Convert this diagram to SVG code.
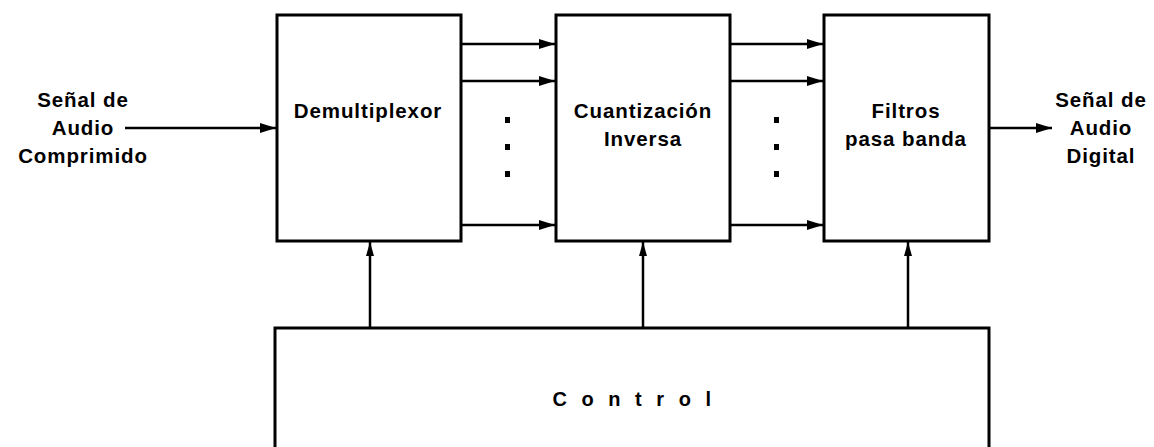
<svg xmlns="http://www.w3.org/2000/svg" width="1154" height="447" viewBox="0 0 1154 447">
<style>
.box{fill:#fff;stroke:#000;stroke-width:3}
.ln{stroke:#000;stroke-width:2.5;fill:none}
.t{font-family:"Liberation Sans",Arial,sans-serif;font-weight:bold;font-size:20.5px;letter-spacing:0.9px;text-anchor:middle;fill:#000}
.c{font-family:"Liberation Sans",Arial,sans-serif;font-weight:bold;font-size:20px;letter-spacing:4.5px;text-anchor:middle;fill:#000}
</style>
<defs>
<marker id="ah" markerWidth="16" markerHeight="10" refX="16" refY="5" orient="auto" markerUnits="userSpaceOnUse">
<path d="M0,0 L16,5 L0,10 Z" fill="#000"/>
</marker>
<marker id="av" markerWidth="14" markerHeight="8" refX="14" refY="4" orient="auto" markerUnits="userSpaceOnUse">
<path d="M0,0 L14,4 L0,8 Z" fill="#000"/>
</marker>
</defs>
<g id="connectors">
<line class="ln" x1="125" y1="128" x2="276" y2="128" marker-end="url(#ah)"/>
<line class="ln" x1="461" y1="44" x2="555" y2="44" marker-end="url(#ah)"/>
<line class="ln" x1="461" y1="81" x2="555" y2="81" marker-end="url(#ah)"/>
<line class="ln" x1="461" y1="225" x2="555" y2="225" marker-end="url(#ah)"/>
<line class="ln" x1="730" y1="44" x2="823" y2="44" marker-end="url(#ah)"/>
<line class="ln" x1="730" y1="81" x2="823" y2="81" marker-end="url(#ah)"/>
<line class="ln" x1="730" y1="225" x2="823" y2="225" marker-end="url(#ah)"/>
<line class="ln" x1="989" y1="128" x2="1052" y2="128" marker-end="url(#ah)"/>
<line class="ln" x1="370" y1="328" x2="370" y2="242" marker-end="url(#av)"/>
<line class="ln" x1="643" y1="328" x2="643" y2="242" marker-end="url(#av)"/>
<line class="ln" x1="908" y1="328" x2="908" y2="242" marker-end="url(#av)"/>
<rect x="505" y="117" width="5" height="6" fill="#000"/>
<rect x="505" y="144" width="5" height="6" fill="#000"/>
<rect x="505" y="171" width="5" height="6" fill="#000"/>
<rect x="774" y="117" width="5" height="6" fill="#000"/>
<rect x="774" y="144" width="5" height="6" fill="#000"/>
<rect x="774" y="171" width="5" height="6" fill="#000"/>
</g>
<g id="input-label">
<text class="t" x="83" y="107">Señal de</text>
<text class="t" x="83" y="135">Audio</text>
<text class="t" x="83" y="163">Comprimido</text>
</g>
<g id="demux">
<rect class="box" x="277" y="15" width="184" height="226"/>
<text class="t" x="368" y="118">Demultiplexor</text>
</g>
<g id="cuantizacion">
<rect class="box" x="556" y="15" width="174" height="226"/>
<text class="t" x="643" y="118">Cuantización</text>
<text class="t" x="643" y="146">Inversa</text>
</g>
<g id="filtros">
<rect class="box" x="824" y="15" width="165" height="226"/>
<text class="t" x="906" y="118">Filtros</text>
<text class="t" x="906" y="146">pasa banda</text>
</g>
<g id="output-label">
<text class="t" x="1101" y="107">Señal de</text>
<text class="t" x="1101" y="135">Audio</text>
<text class="t" x="1101" y="163">Digital</text>
</g>
<g id="control">
<rect class="box" x="275" y="328" width="714" height="125"/>
<text class="c" x="634" y="406">C o n t r o l</text>
</g>
</svg>
